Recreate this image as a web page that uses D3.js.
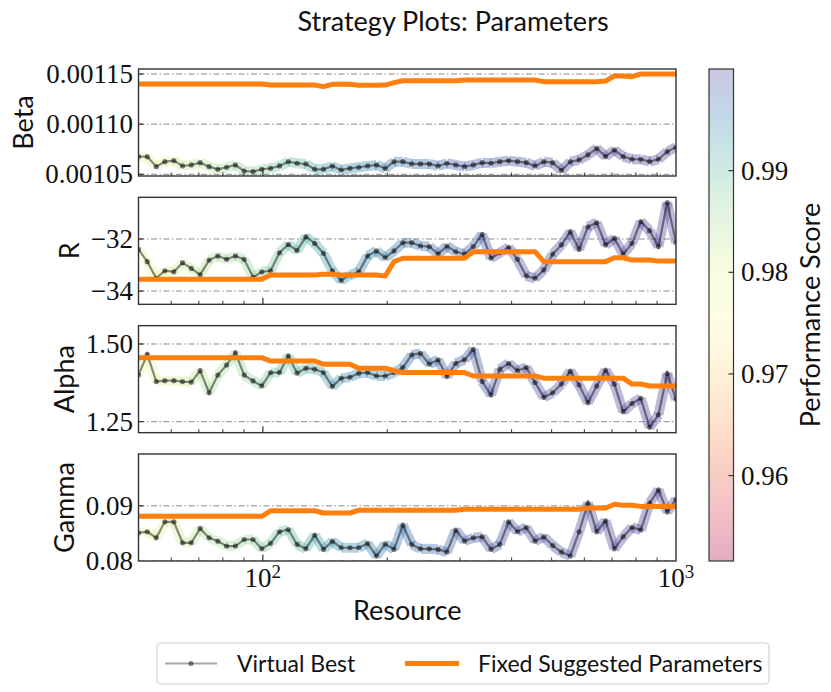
<!DOCTYPE html>
<html>
<head>
<meta charset="utf-8">
<script src="https://cdn.jsdelivr.net/npm/d3@7"></script>
<style>
  body { margin: 0; background: #fff; }
  .serif { font-family: "Liberation Serif", serif; }
  .sans { font-family: Lato, "DejaVu Sans", sans-serif; }
</style>
</head>
<body>
<div id="chart"></div>
<script>
//data
var resource = [50, 52.5, 55.2, 57.9, 60.9, 63.9, 67.1, 70.5, 74.1, 77.8,
  81.7, 85.8, 90.1, 94.7, 99.4, 104.4, 109.7, 115.2, 121.0, 127.1,
  133.5, 140.2, 147.3, 154.7, 162.5, 170.7, 179.3, 188.3, 197.8, 207.7,
  218.2, 229.2, 240.7, 252.8, 265.6, 278.9, 293.0, 307.7, 323.2, 339.5,
  356.6, 374.5, 393.4, 413.2, 434.0, 455.8, 478.8, 502.9, 528.2, 554.8,
  582.7, 612.1, 642.9, 675.3, 709.3, 745.0, 782.5, 821.9, 863.3, 906.8,
  952.4, 1000];

var score = [0.9792, 0.9795, 0.9797, 0.9806, 0.9816, 0.9823, 0.9831, 0.9838, 0.9845, 0.9850,
  0.9855, 0.9860, 0.9864, 0.9869, 0.9874, 0.9881, 0.9889, 0.9896, 0.9903, 0.9910,
  0.9918, 0.9925, 0.9932, 0.9937, 0.9942, 0.9945, 0.9947, 0.9950, 0.9952, 0.9957,
  0.9961, 0.9964, 0.9966, 0.9969, 0.9971, 0.9974, 0.9976, 0.9979, 0.9981, 0.9983,
  0.9985, 0.9986, 0.9988, 0.9989, 0.9990, 0.9991, 0.9991, 0.9992, 0.9993, 0.9994,
  0.9995, 0.9995, 0.9996, 0.9996, 0.9997, 0.9997, 0.9998, 0.9998, 0.9999, 0.9999,
  1.0, 1.0];

var betaBest = [0.0010676, 0.0010676, 0.0010576, 0.0010626, 0.0010636, 0.0010583, 0.0010593, 0.0010616, 0.0010576, 0.0010550,
  0.0010570, 0.0010593, 0.0010533, 0.0010527, 0.0010550, 0.0010560, 0.0010583, 0.0010626, 0.0010610, 0.0010603,
  0.0010550, 0.0010550, 0.0010583, 0.0010543, 0.0010560, 0.0010570, 0.0010583, 0.0010593, 0.0010557, 0.0010626,
  0.0010626, 0.0010603, 0.0010603, 0.0010603, 0.0010583, 0.0010610, 0.0010593, 0.0010576, 0.0010593, 0.0010616,
  0.0010610, 0.0010626, 0.0010636, 0.0010626, 0.0010616, 0.0010583, 0.0010626, 0.0010616, 0.0010537, 0.0010626,
  0.0010643, 0.0010693, 0.0010759, 0.0010676, 0.0010743, 0.0010676, 0.0010650, 0.0010650, 0.0010626, 0.0010650,
  0.0010726, 0.0010769];
var betaFixed = [0.0011400, 0.0011400, 0.0011400, 0.0011400, 0.0011400, 0.0011400, 0.0011400, 0.0011400, 0.0011400, 0.0011400,
  0.0011400, 0.0011400, 0.0011400, 0.0011400, 0.0011400, 0.0011390, 0.0011390, 0.0011390, 0.0011390, 0.0011390,
  0.0011390, 0.0011374, 0.0011397, 0.0011397, 0.0011397, 0.0011387, 0.0011387, 0.0011387, 0.0011390, 0.0011414,
  0.0011433, 0.0011433, 0.0011433, 0.0011433, 0.0011433, 0.0011433, 0.0011433, 0.0011440, 0.0011440, 0.0011440,
  0.0011440, 0.0011440, 0.0011440, 0.0011440, 0.0011440, 0.0011440, 0.0011424, 0.0011424, 0.0011424, 0.0011424,
  0.0011424, 0.0011424, 0.0011424, 0.0011430, 0.0011480, 0.0011480, 0.0011473, 0.0011500, 0.0011500, 0.0011500,
  0.0011500, 0.0011500];

var rBest = [-32.40, -32.87, -33.51, -33.22, -33.26, -32.91, -33.13, -33.38, -32.81, -32.65,
  -32.78, -32.65, -32.78, -33.47, -33.26, -33.22, -32.53, -32.21, -32.45, -31.91,
  -32.17, -32.55, -33.22, -33.60, -33.38, -33.26, -32.65, -32.46, -32.72, -32.46,
  -32.14, -32.14, -32.27, -32.29, -32.58, -32.27, -32.49, -32.58, -32.29, -31.82,
  -32.74, -32.53, -32.32, -32.78, -33.42, -33.51, -33.19, -32.58, -32.23, -31.72,
  -32.40, -31.53, -31.37, -32.23, -31.97, -32.58, -32.17, -31.33, -31.68, -32.29,
  -30.60, -32.14];
var rFixed = [-33.55, -33.55, -33.55, -33.55, -33.55, -33.55, -33.55, -33.55, -33.55, -33.55,
  -33.55, -33.55, -33.55, -33.55, -33.55, -33.38, -33.38, -33.38, -33.38, -33.38,
  -33.38, -33.35, -33.35, -33.38, -33.38, -33.38, -33.38, -33.38, -33.42, -32.87,
  -32.74, -32.74, -32.74, -32.74, -32.74, -32.74, -32.74, -32.74, -32.49, -32.49,
  -32.49, -32.49, -32.49, -32.49, -32.49, -32.49, -32.87, -32.87, -32.87, -32.87,
  -32.87, -32.87, -32.87, -32.87, -32.72, -32.72, -32.81, -32.81, -32.81, -32.85,
  -32.85, -32.85];

var alphaBest = [1.400, 1.467, 1.379, 1.382, 1.382, 1.379, 1.377, 1.414, 1.343, 1.400,
  1.432, 1.472, 1.400, 1.381, 1.365, 1.408, 1.408, 1.462, 1.406, 1.422,
  1.419, 1.408, 1.363, 1.390, 1.393, 1.406, 1.408, 1.397, 1.397, 1.408,
  1.424, 1.465, 1.470, 1.435, 1.449, 1.395, 1.438, 1.449, 1.483, 1.379,
  1.336, 1.419, 1.438, 1.414, 1.425, 1.376, 1.328, 1.343, 1.371, 1.413,
  1.368, 1.311, 1.365, 1.416, 1.371, 1.282, 1.309, 1.325, 1.232, 1.272,
  1.405, 1.322];
var alphaFixed = [1.456, 1.456, 1.456, 1.456, 1.456, 1.456, 1.456, 1.456, 1.456, 1.456,
  1.456, 1.456, 1.456, 1.456, 1.456, 1.445, 1.445, 1.445, 1.445, 1.445,
  1.445, 1.435, 1.435, 1.435, 1.435, 1.422, 1.422, 1.422, 1.422, 1.414,
  1.408, 1.408, 1.408, 1.408, 1.408, 1.408, 1.408, 1.408, 1.397, 1.397,
  1.397, 1.397, 1.397, 1.397, 1.397, 1.397, 1.390, 1.390, 1.390, 1.390,
  1.390, 1.390, 1.390, 1.390, 1.390, 1.390, 1.371, 1.371, 1.365, 1.365,
  1.365, 1.365];

var gammaBest = [0.0851, 0.0853, 0.0842, 0.0871, 0.0871, 0.0833, 0.0833, 0.0859, 0.0842, 0.0836,
  0.0827, 0.0827, 0.0839, 0.0839, 0.0822, 0.0832, 0.0853, 0.0857, 0.0830, 0.0822,
  0.0847, 0.0821, 0.0836, 0.0824, 0.0824, 0.0824, 0.0832, 0.0809, 0.0831, 0.0821,
  0.0865, 0.0830, 0.0822, 0.0822, 0.0821, 0.0816, 0.0856, 0.0836, 0.0842, 0.0844,
  0.0821, 0.0830, 0.0871, 0.0853, 0.0861, 0.0836, 0.0844, 0.0828, 0.0816, 0.0809,
  0.0853, 0.0905, 0.0853, 0.0873, 0.0822, 0.0844, 0.0861, 0.0856, 0.0905, 0.0929,
  0.0889, 0.0912];
var gammaFixed = [0.0881, 0.0881, 0.0881, 0.0881, 0.0881, 0.0881, 0.0881, 0.0881, 0.0881, 0.0881,
  0.0881, 0.0881, 0.0881, 0.0881, 0.0881, 0.0891, 0.0891, 0.0891, 0.0891, 0.0891,
  0.0891, 0.0887, 0.0887, 0.0887, 0.0887, 0.0892, 0.0892, 0.0892, 0.0892, 0.0892,
  0.0892, 0.0892, 0.0892, 0.0892, 0.0892, 0.0892, 0.0892, 0.0894, 0.0894, 0.0894,
  0.0894, 0.0894, 0.0894, 0.0894, 0.0894, 0.0894, 0.0894, 0.0894, 0.0894, 0.0894,
  0.0894, 0.0896, 0.0896, 0.0896, 0.0903, 0.0901, 0.0901, 0.0899, 0.0899, 0.0899,
  0.0899, 0.0899];

var panelNames = ["Beta", "R", "Alpha", "Gamma"];
var yDomains = [[0.0010483, 0.001155], [-34.51, -30.40], [1.2146, 1.559], [0.08, 0.0994]];
var yTicks = [[0.00105, 0.00110, 0.00115], [-34, -32], [1.25, 1.50], [0.08, 0.09]];
var yFormats = [".5f", "d", ".2f", ".2f"];
var cbTicks = [0.96, 0.97, 0.98, 0.99];
var legendLabels = ["Virtual Best", "Fixed Suggested Parameters"];

//layout
var width = 831, height = 692;
var left = 138.5, right = 676;
var top0 = 69, panelH = 107, panelStep = 128.33;
var orange = "#ff7f0e";
var gridDash = "6,2.5,1.5,2.5";

var x = d3.scaleLog().domain([50, 1000]).range([left, right]);
var color = d3.scaleSequential(d3.interpolateSpectral).domain([0.9516, 1.0]);

var svg = d3.select("#chart")
    .append("svg")
    .attr("width", width)
    .attr("height", height);

var defs = svg.append("defs");

var series = [[betaBest, betaFixed], [rBest, rFixed], [alphaBest, alphaFixed], [gammaBest, gammaFixed]];
var minorTicks = x.ticks().filter(function(d) { return d > 50 && d < 1000 && d !== 100; });

panelNames.forEach(function(name, k) {
    var top = top0 + k * panelStep;
    var y = d3.scaleLinear().domain(yDomains[k]).range([top + panelH, top]);
    var best = series[k][0], fixed = series[k][1];
    var g = svg.append("g");

    defs.append("clipPath").attr("id", "clip" + k)
        .append("rect")
        .attr("x", left).attr("y", top)
        .attr("width", right - left).attr("height", panelH);

    var inner = g.append("g").attr("clip-path", "url(#clip" + k + ")");

    //dash-dot grid
    inner.selectAll(".grid")
        .data(yTicks[k])
        .enter()
        .append("line")
        .attr("x1", left).attr("x2", right)
        .attr("y1", function(d) { return y(d); })
        .attr("y2", function(d) { return y(d); })
        .attr("stroke", "#8c8c8c")
        .attr("stroke-width", 1)
        .attr("stroke-dasharray", gridDash);

    //score coloured band, one segment per step
    inner.selectAll(".band")
        .data(d3.range(resource.length - 1))
        .enter()
        .append("line")
        .attr("x1", function(i) { return x(resource[i]); })
        .attr("y1", function(i) { return y(best[i]); })
        .attr("x2", function(i) { return x(resource[i + 1]); })
        .attr("y2", function(i) { return y(best[i + 1]); })
        .attr("stroke", function(i) { return color((score[i] + score[i + 1]) / 2); })
        .attr("stroke-width", 10)
        .attr("stroke-opacity", 0.4);

    var line = d3.line()
        .x(function(d, i) { return x(resource[i]); })
        .y(function(d) { return y(d); });

    inner.append("path")
        .attr("d", line(best))
        .attr("fill", "none")
        .attr("stroke", "#000")
        .attr("stroke-opacity", 0.45)
        .attr("stroke-width", 2.2);

    inner.selectAll(".dot")
        .data(best)
        .enter()
        .append("circle")
        .attr("cx", function(d, i) { return x(resource[i]); })
        .attr("cy", function(d) { return y(d); })
        .attr("r", 2.6)
        .attr("fill", "#000")
        .attr("fill-opacity", 0.5);

    inner.append("path")
        .attr("d", line(fixed))
        .attr("fill", "none")
        .attr("stroke", orange)
        .attr("stroke-width", 5)
        .attr("stroke-linejoin", "round");

    //frame
    g.append("rect")
        .attr("x", left).attr("y", top)
        .attr("width", right - left).attr("height", panelH)
        .attr("fill", "none")
        .attr("stroke", "#333")
        .attr("stroke-width", 1.4);

    //inward ticks
    g.selectAll(".ytick")
        .data(yTicks[k].filter(function(d) { return d > yDomains[k][0]; }))
        .enter()
        .append("line")
        .attr("x1", left).attr("x2", left + 5)
        .attr("y1", function(d) { return y(d); })
        .attr("y2", function(d) { return y(d); })
        .attr("stroke", "#333").attr("stroke-width", 1.2);

    g.selectAll(".xminor")
        .data(minorTicks)
        .enter()
        .append("line")
        .attr("x1", function(d) { return x(d); })
        .attr("x2", function(d) { return x(d); })
        .attr("y1", top + panelH).attr("y2", top + panelH - 3.5)
        .attr("stroke", "#333").attr("stroke-width", 1);

    g.append("line")
        .attr("x1", x(100)).attr("x2", x(100))
        .attr("y1", top + panelH).attr("y2", top + panelH - 6.5)
        .attr("stroke", "#333").attr("stroke-width", 1.2);

    var fmt = d3.format(yFormats[k]);
    var labels = g.append("g");
    labels.selectAll("text")
        .data(yTicks[k])
        .enter()
        .append("text")
        .attr("class", "serif")
        .attr("x", left - 5.5)
        .attr("y", function(d) { return y(d); })
        .attr("dy", "0.34em")
        .attr("text-anchor", "end")
        .style("font-size", "27px")
        .attr("fill", "#111")
        .text(function(d) { return fmt(d); });

    var bb = labels.node().getBBox();
    g.append("text")
        .attr("class", "sans")
        .attr("transform", "translate(" + (bb.x - 12) + "," + (top + panelH / 2) + ") rotate(-90)")
        .attr("text-anchor", "middle")
        .style("font-size", "27px")
        .attr("fill", "#111")
        .text(name);

    if (k === 3) {
        [100, 1000].forEach(function(v) {
            var t = g.append("text")
                .attr("class", "serif")
                .attr("x", x(v))
                .attr("y", top + panelH + 26)
                .attr("text-anchor", "middle")
                .style("font-size", "27px")
                .attr("fill", "#111");
            t.append("tspan").text("10");
            t.append("tspan")
                .attr("dy", -9)
                .style("font-size", "19px")
                .text(String(Math.log10(v)));
        });
    }
});

//titles
svg.append("text")
    .attr("class", "sans")
    .attr("x", 453).attr("y", 31)
    .attr("text-anchor", "middle")
    .style("font-size", "27px")
    .attr("fill", "#111")
    .text("Strategy Plots: Parameters");

svg.append("text")
    .attr("class", "sans")
    .attr("x", (left + right) / 2).attr("y", 620)
    .attr("text-anchor", "middle")
    .style("font-size", "27px")
    .attr("fill", "#111")
    .text("Resource");

//colorbar
var cbX = 709, cbW = 24.5;
var cbTop = top0, cbBottom = top0 + 3 * panelStep + panelH;
var cy = d3.scaleLinear().domain(color.domain()).range([cbBottom, cbTop]);

var grad = defs.append("linearGradient")
    .attr("id", "cbgrad")
    .attr("x1", 0).attr("y1", 1).attr("x2", 0).attr("y2", 0);
grad.selectAll("stop")
    .data(d3.range(0, 1.0001, 0.05))
    .enter()
    .append("stop")
    .attr("offset", function(t) { return t; })
    .attr("stop-color", function(t) { return color(color.domain()[0] + t * (color.domain()[1] - color.domain()[0])); })
    .attr("stop-opacity", 0.32);

svg.append("rect")
    .attr("x", cbX).attr("y", cbTop)
    .attr("width", cbW).attr("height", cbBottom - cbTop)
    .attr("fill", "url(#cbgrad)")
    .attr("stroke", "#333")
    .attr("stroke-width", 1.2);

svg.selectAll(".cbtick")
    .data(cbTicks)
    .enter()
    .append("line")
    .attr("x1", cbX + cbW).attr("x2", cbX + cbW - 5)
    .attr("y1", function(d) { return cy(d); })
    .attr("y2", function(d) { return cy(d); })
    .attr("stroke", "#333").attr("stroke-width", 1.2);

svg.selectAll(".cblabel")
    .data(cbTicks)
    .enter()
    .append("text")
    .attr("class", "serif")
    .attr("x", cbX + cbW + 7.5)
    .attr("y", function(d) { return cy(d); })
    .attr("dy", "0.34em")
    .style("font-size", "27px")
    .attr("fill", "#111")
    .text(function(d) { return d3.format(".2f")(d); });

svg.append("text")
    .attr("class", "sans")
    .attr("transform", "translate(820," + ((cbTop + cbBottom) / 2) + ") rotate(-90)")
    .attr("text-anchor", "middle")
    .style("font-size", "27px")
    .attr("fill", "#111")
    .text("Performance Score");

//legend
var lg = svg.append("g");
lg.append("rect")
    .attr("x", 157).attr("y", 643)
    .attr("width", 612).attr("height", 41)
    .attr("rx", 4)
    .attr("fill", "#fff")
    .attr("stroke", "#cfcfcf")
    .attr("stroke-width", 1.2);

lg.append("line")
    .attr("x1", 165).attr("x2", 217)
    .attr("y1", 663.5).attr("y2", 663.5)
    .attr("stroke", "#000").attr("stroke-opacity", 0.35)
    .attr("stroke-width", 2.2);
lg.append("circle")
    .attr("cx", 191).attr("cy", 663.5).attr("r", 2.6)
    .attr("fill", "#000").attr("fill-opacity", 0.45);
lg.append("line")
    .attr("x1", 405).attr("x2", 459)
    .attr("y1", 663.5).attr("y2", 663.5)
    .attr("stroke", orange)
    .attr("stroke-width", 5);

lg.selectAll(".ltext")
    .data(legendLabels)
    .enter()
    .append("text")
    .attr("class", "sans")
    .attr("x", function(d, i) { return i === 0 ? 237 : 478; })
    .attr("y", 671.5)
    .style("font-size", "23px")
    .attr("fill", "#111")
    .text(function(d) { return d; });
</script>
</body>
</html>
